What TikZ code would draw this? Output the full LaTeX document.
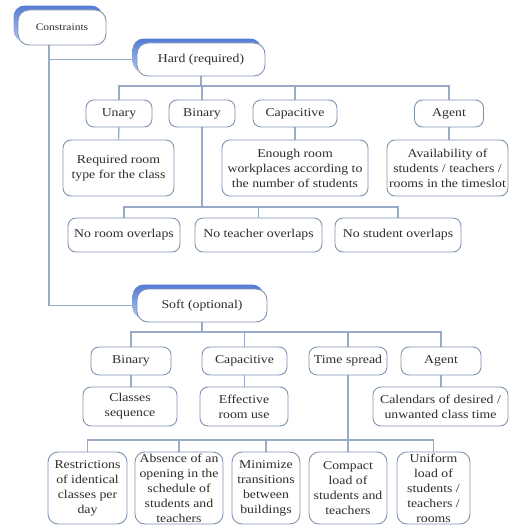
\documentclass[tikz,border=0pt]{standalone}
\usepackage{fontspec}
\setmainfont{Liberation Serif}[FakeStretch=1.15]
\usetikzlibrary{backgrounds}
\definecolor{boxline}{RGB}{128,146,176}
\definecolor{wire}{RGB}{152,170,200}
\definecolor{inktext}{RGB}{45,45,45}
\definecolor{accenttop}{RGB}{84,124,212}
\definecolor{accentbot}{RGB}{176,198,238}
\tikzset{
  cbox/.style={draw=boxline, line width=0.9pt, fill=white, rounded corners=8pt,
    align=center, inner sep=0pt, text=inktext,
    font=\fontsize{12}{15}\selectfont},
  topbox/.style={cbox, rounded corners=11pt},
  wirestyle/.style={draw=wire, line width=1.3pt},
}
\newcommand{\topaccent}[1]{%
  \begin{scope}[on background layer]
    \shade[rounded corners=11pt, top color=accenttop, bottom color=accentbot]
      ([shift={(-4,-4)}]#1.south west) rectangle ([shift={(-4,-4)}]#1.north east);
  \end{scope}}
\begin{document}
\begin{tikzpicture}[x=1pt, y=-1pt]
\useasboundingbox (0,0) rectangle (509,526);

% top level
\node[topbox, minimum width=88pt, minimum height=35pt, font=\fontsize{10}{12}\selectfont] (cons) at (62,27.5) {Constraints};
\node[topbox, minimum width=128pt, minimum height=33pt] (hard) at (201,59.5) {Hard (required)};
\node[topbox, minimum width=130pt, minimum height=33pt] (soft) at (202,305.5) {Soft (optional)};
\topaccent{cons}
\topaccent{hard}
\topaccent{soft}

% hard constraints
\node[cbox, minimum width=66pt, minimum height=27pt] (unary) at (119,113.5) {Unary};
\node[cbox, minimum width=66pt, minimum height=27pt] (binh) at (202,113.5) {Binary};
\node[cbox, minimum width=84pt, minimum height=27pt] (caph) at (295,113.5) {Capacitive};
\node[cbox, minimum width=69pt, minimum height=27pt] (agenth) at (449,113.5) {Agent};

\node[cbox, minimum width=111pt, minimum height=56pt] (reqroom) at (118.5,168) {Required room\\type for the class};
\node[cbox, minimum width=146pt, minimum height=56pt] (enough) at (295,168) {Enough room\\workplaces according to\\the number of students};
\node[cbox, minimum width=121pt, minimum height=56pt] (avail) at (447.5,168) {Availability of\\students / teachers /\\rooms in the timeslot};

\node[cbox, minimum width=112pt, minimum height=34pt] (noroom) at (124,235) {No room overlaps};
\node[cbox, minimum width=127pt, minimum height=34pt] (noteach) at (258.5,235) {No teacher overlaps};
\node[cbox, minimum width=126pt, minimum height=34pt] (nostud) at (398,235) {No student overlaps};

% soft constraints
\node[cbox, minimum width=80pt, minimum height=28pt] (bins) at (131,361) {Binary};
\node[cbox, minimum width=85pt, minimum height=28pt] (caps) at (244.5,361) {Capacitive};
\node[cbox, minimum width=78pt, minimum height=28pt] (tspread) at (348,361) {Time spread};
\node[cbox, minimum width=80pt, minimum height=28pt] (agents) at (441,361) {Agent};

\node[cbox, minimum width=94pt, minimum height=39pt] (classes) at (130,406.5) {Classes\\sequence};
\node[cbox, minimum width=88pt, minimum height=39pt] (effect) at (244,406.5) {Effective\\room use};
\node[cbox, minimum width=135pt, minimum height=39pt] (calend) at (440.5,406.5) {Calendars of desired /\\unwanted class time};

\node[cbox, rounded corners=10pt, minimum width=79pt, minimum height=72pt] (restr) at (87.5,488) {Restrictions\\of identical\\classes per\\day};
\node[cbox, rounded corners=10pt, minimum width=88pt, minimum height=72pt] (absence) at (179,488) {Absence of an\\opening in the\\schedule of\\students and\\teachers};
\node[cbox, rounded corners=10pt, minimum width=68pt, minimum height=72pt] (minim) at (266,488) {Minimize\\transitions\\between\\buildings};
\node[cbox, rounded corners=10pt, minimum width=78pt, minimum height=72pt] (compact) at (348,488) {Compact\\load of\\students and\\teachers};
\node[cbox, rounded corners=10pt, minimum width=73pt, minimum height=72pt] (uniform) at (433.5,488) {Uniform\\load of\\students /\\teachers /\\rooms};

% connectors
\coordinate (trunk) at (49,0);
\coordinate (hbar) at (0,86);
\coordinate (obar) at (0,207);
\coordinate (sbar) at (0,332);
\coordinate (tbar) at (0,440);
\begin{scope}[on background layer]
\draw[wirestyle] (trunk |- cons.south) |- (soft.west);
\draw[wirestyle] (trunk |- hard.west) -- (hard.west);

\foreach \c in {unary,binh,caph,agenth}
  \draw[wirestyle] (hard.south) -- (hard.south |- hbar) -| (\c.north);
\draw[wirestyle] (unary.south) -- (reqroom.north);
\draw[wirestyle] (caph.south) -- (caph.south |- enough.north);
\draw[wirestyle] (agenth.south) -- (agenth.south |- avail.north);
\foreach \c in {noroom,noteach,nostud}
  \draw[wirestyle] (binh.south) -- (binh.south |- obar) -| (\c.north);

\foreach \c in {bins,caps,tspread,agents}
  \draw[wirestyle] (soft.south) -- (soft.south |- sbar) -| (\c.north);
\draw[wirestyle] (bins.south) -- (bins.south |- classes.north);
\draw[wirestyle] (caps.south) -- (caps.south |- effect.north);
\draw[wirestyle] (agents.south) -- (agents.south |- calend.north);
\foreach \c in {restr,absence,minim,compact,uniform}
  \draw[wirestyle] (tspread.south) -- (tspread.south |- tbar) -| (\c.north);
\end{scope}
\end{tikzpicture}
\end{document}
